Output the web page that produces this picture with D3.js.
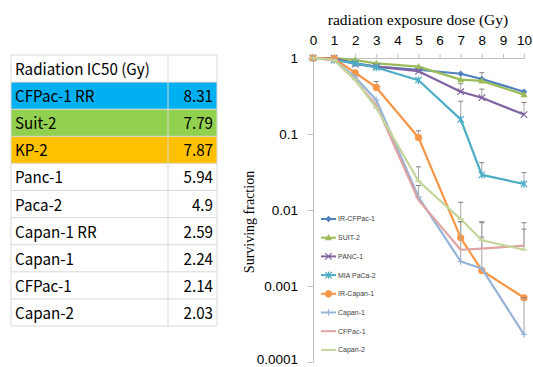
<!DOCTYPE html>
<html lang="en">
<head>
<meta charset="UTF-8">
<title>Radiation survival</title>
<style>
  body { margin: 0; background: #fff; }
  svg { display: block; }
</style>
</head>
<body>
<svg id="chart" width="533" height="367"></svg>
<script src="https://d3js.org/d3.v7.min.js"></script>
<script>
// --- table data ---
const tableHeader = "Radiation IC50 (Gy)";
const cellLines = ["CFPac-1 RR", "Suit-2", "KP-2", "Panc-1", "Paca-2", "Capan-1 RR", "Capan-1", "CFPac-1", "Capan-2"];
const ic50 = ["8.31", "7.79", "7.87", "5.94", "4.9", "2.59", "2.24", "2.14", "2.03"];
const rowFill = ["#00B0F0", "#92D050", "#FFC000", null, null, null, null, null, null];

// --- survival curve data ---
const doses = [0, 1, 2, 3, 5, 7, 8, 10];
const xTicks = [0, 1, 2, 3, 4, 5, 6, 7, 8, 9, 10];
const yTicks = [1, 0.1, 0.01, 0.001, 0.0001];
const yTickLabels = ["1", "0.1", "0.01", "0.001", "0.0001"];
const seriesNames = ["IR-CFPac-1", "SUIT-2", "PANC-1", "MIA PaCa-2", "IR-Capan-1", "Capan-1", "CFPac-1", "Capan-2"];
const seriesColors = ["#4F81BD", "#9BBB59", "#8064A2", "#4BACC6", "#F79646", "#95B3D7", "#E0A3A2", "#C3D69B"];
const seriesMarkers = ["diamond", "triangle", "x", "star", "circle", "plus", "none", "dash"];

const irCfpac1 = [1, 1, 0.85, 0.77, 0.70, 0.62, 0.53, 0.36];
const suit2 = [1, 1, 0.94, 0.85, 0.77, 0.52, 0.50, 0.33];
const panc1 = [1, 1, 0.83, 0.77, 0.67, 0.36, 0.30, 0.18];
const miaPaca2 = [1, 0.94, 0.85, 0.75, 0.51, 0.156, 0.029, 0.022];
const irCapan1 = [1, 0.98, 0.64, 0.41, 0.09, 0.0043, 0.0016, 0.0007];
const capan1 = [1, 0.94, 0.56, 0.28, 0.0148, 0.0021, 0.0017, 0.00023];
const cfpac1 = [1, 0.94, 0.51, 0.24, 0.0135, 0.0030, 0.0031, 0.0034];
const capan2 = [1, 0.94, 0.52, 0.22, 0.024, 0.0076, 0.0040, 0.0030];

// upper end of error bars (null = none visible)
const irCfpac1Err = [null, null, null, null, null, null, 0.64, null];
const suit2Err = [null, null, null, null, null, null, null, null];
const panc1Err = [null, null, null, null, null, 0.46, 0.39, 0.26];
const miaPaca2Err = [null, null, null, null, null, 0.27, 0.042, 0.031];
const irCapan1Err = [null, null, null, 0.49, 0.11, 0.0070, null, null];
const capan1Err = [null, null, null, null, 0.021, 0.0070, 0.0068, 0.0007];
const cfpac1Err = [null, null, null, null, null, null, 0.0044, 0.0056];
const capan2Err = [null, null, null, null, 0.037, 0.0126, 0.0070, 0.0068];

const seriesValues = [irCfpac1, suit2, panc1, miaPaca2, irCapan1, capan1, cfpac1, capan2];
const seriesErr = [irCfpac1Err, suit2Err, panc1Err, miaPaca2Err, irCapan1Err, capan1Err, cfpac1Err, capan2Err];

const svg = d3.select("#chart");

// ---------- table ----------
const tX0 = 11, tX1 = 168, tX2 = 217, tY0 = 55, rowH = 27.1;
const tableFont = "'Noto Sans CJK JP', 'Noto Sans', sans-serif";
const table = svg.append("g");
const nRows = cellLines.length + 1;

table.selectAll("rect.fill")
  .data(rowFill)
  .join("rect")
  .attr("x", tX0).attr("y", (d, i) => tY0 + (i + 1) * rowH)
  .attr("width", tX2 - tX0).attr("height", rowH)
  .attr("fill", d => d || "none");

// grid lines
const hLines = d3.range(nRows + 1);
table.selectAll("line.h")
  .data(hLines)
  .join("line")
  .attr("x1", tX0).attr("x2", tX2)
  .attr("y1", i => tY0 + i * rowH).attr("y2", i => tY0 + i * rowH)
  .attr("stroke", "#d9d9d9").attr("stroke-width", 1);
table.selectAll("line.v")
  .data([tX0, tX1, tX2])
  .join("line")
  .attr("x1", d => d).attr("x2", d => d)
  .attr("y1", tY0).attr("y2", tY0 + nRows * rowH)
  .attr("stroke", "#d9d9d9").attr("stroke-width", 1);

const textRows = [tableHeader].concat(cellLines);
table.selectAll("text.lab")
  .data(textRows)
  .join("text")
  .attr("transform", (d, i) => `translate(15,${tY0 + i * rowH + 20}) scale(0.95,1)`)
  .attr("font-family", tableFont).attr("font-size", 16)
  .attr("fill", "#000")
  .text(d => d);

table.selectAll("text.val")
  .data(ic50)
  .join("text")
  .attr("transform", (d, i) => `translate(213,${tY0 + (i + 1) * rowH + 20}) scale(0.95,1)`)
  .attr("text-anchor", "end")
  .attr("font-family", tableFont).attr("font-size", 16)
  .attr("fill", "#000")
  .text(d => d);

// ---------- chart ----------
const x = d3.scaleLinear().domain([0, 10]).range([313, 524]);
const y = d3.scaleLog().domain([0.0001, 1]).range([362, 58]);
const axisColor = "#bfbfbf";
const sansFont = "'Liberation Sans', Arial, sans-serif";
const serifFont = "'Liberation Serif', 'Times New Roman', serif";

// top x axis
const xAxis = svg.append("g")
  .attr("transform", `translate(0,${y(1)})`)
  .call(d3.axisTop(x).tickValues(xTicks).tickSize(4).tickSizeOuter(0).tickPadding(9).tickFormat(d3.format("d")));
xAxis.select(".domain").attr("stroke", axisColor);
xAxis.selectAll(".tick line").attr("stroke", axisColor);
xAxis.selectAll(".tick text").attr("font-family", sansFont).attr("font-size", 13.5).attr("fill", "#000");

// left y axis
const yAxis = svg.append("g")
  .attr("transform", `translate(${x(0)},0)`)
  .call(d3.axisLeft(y).tickValues(yTicks).tickSize(5).tickSizeOuter(0).tickPadding(10)
    .tickFormat((d, i) => yTickLabels[i]));
yAxis.select(".domain").attr("stroke", axisColor);
yAxis.selectAll(".tick line").attr("stroke", axisColor);
yAxis.selectAll(".tick text").attr("font-family", sansFont).attr("font-size", 13.5).attr("fill", "#000");
// keep the bottom label inside the picture
yAxis.selectAll(".tick text").filter(d => d === 0.0001).attr("dy", "0.1em");

svg.append("text")
  .attr("x", 418).attr("y", 25)
  .attr("text-anchor", "middle")
  .attr("font-family", serifFont).attr("font-size", 15.5)
  .text("radiation exposure dose (Gy)");

svg.append("text")
  .attr("transform", `translate(254,222) rotate(-90)`)
  .attr("text-anchor", "middle")
  .attr("font-family", serifFont).attr("font-size", 14)
  .text("Surviving fraction");

// marker drawing
function drawMarker(g, type, color, cx, cy) {
  const s = 3.2;
  if (type === "diamond") {
    g.append("path").attr("d", `M${cx},${cy - s}L${cx + s},${cy}L${cx},${cy + s}L${cx - s},${cy}Z`).attr("fill", color);
  } else if (type === "triangle") {
    g.append("path").attr("d", `M${cx},${cy - 3.6}L${cx + 3.6},${cy + 2.6}L${cx - 3.6},${cy + 2.6}Z`).attr("fill", color);
  } else if (type === "circle") {
    g.append("circle").attr("cx", cx).attr("cy", cy).attr("r", 3.6).attr("fill", color);
  } else if (type === "x") {
    g.append("path").attr("d", `M${cx - s},${cy - s}L${cx + s},${cy + s}M${cx - s},${cy + s}L${cx + s},${cy - s}`)
      .attr("stroke", color).attr("stroke-width", 1.2);
  } else if (type === "star") {
    g.append("path").attr("d", `M${cx - s},${cy - s}L${cx + s},${cy + s}M${cx - s},${cy + s}L${cx + s},${cy - s}M${cx},${cy - s - 0.5}L${cx},${cy + s + 0.5}`)
      .attr("stroke", color).attr("stroke-width", 1.2);
  } else if (type === "plus") {
    g.append("path").attr("d", `M${cx - s},${cy}L${cx + s},${cy}M${cx},${cy - s}L${cx},${cy + s}`)
      .attr("stroke", color).attr("stroke-width", 1.2);
  } else if (type === "dash") {
    g.append("path").attr("d", `M${cx - s},${cy}L${cx + s},${cy}`)
      .attr("stroke", color).attr("stroke-width", 1.5);
  }
}

const line = d3.line().x(d => x(d[0])).y(d => y(d[1]));
const plot = svg.append("g");

seriesNames.forEach((name, si) => {
  const g = plot.append("g");
  const color = seriesColors[si];
  // error bars
  seriesErr[si].forEach((e, i) => {
    if (e == null) return;
    const px = x(doses[i]);
    g.append("line").attr("x1", px).attr("x2", px)
      .attr("y1", y(seriesValues[si][i])).attr("y2", y(e))
      .attr("stroke", "#a6a6a6").attr("stroke-width", 1);
    g.append("line").attr("x1", px - 2.5).attr("x2", px + 2.5)
      .attr("y1", y(e)).attr("y2", y(e))
      .attr("stroke", "#7f7f7f").attr("stroke-width", 1);
  });
  const pts = doses.map((d, i) => [d, seriesValues[si][i]]);
  g.append("path").datum(pts)
    .attr("d", line)
    .attr("fill", "none")
    .attr("stroke", color)
    .attr("stroke-width", 2.2)
    .attr("stroke-linejoin", "round");
  pts.forEach(p => drawMarker(g, seriesMarkers[si], color, x(p[0]), y(p[1])));
});

// legend
const legend = svg.append("g");
const legY0 = 219, legStep = 18.7;
seriesNames.forEach((name, si) => {
  const ly = legY0 + si * legStep;
  const g = legend.append("g");
  g.append("line").attr("x1", 321).attr("x2", 336).attr("y1", ly).attr("y2", ly)
    .attr("stroke", seriesColors[si]).attr("stroke-width", 2);
  drawMarker(g, seriesMarkers[si], seriesColors[si], 328.5, ly);
  g.append("text").attr("x", 338).attr("y", ly + 2.4)
    .attr("font-family", sansFont).attr("font-size", 7)
    .attr("fill", "#404040")
    .text(name);
});
</script>
</body>
</html>
